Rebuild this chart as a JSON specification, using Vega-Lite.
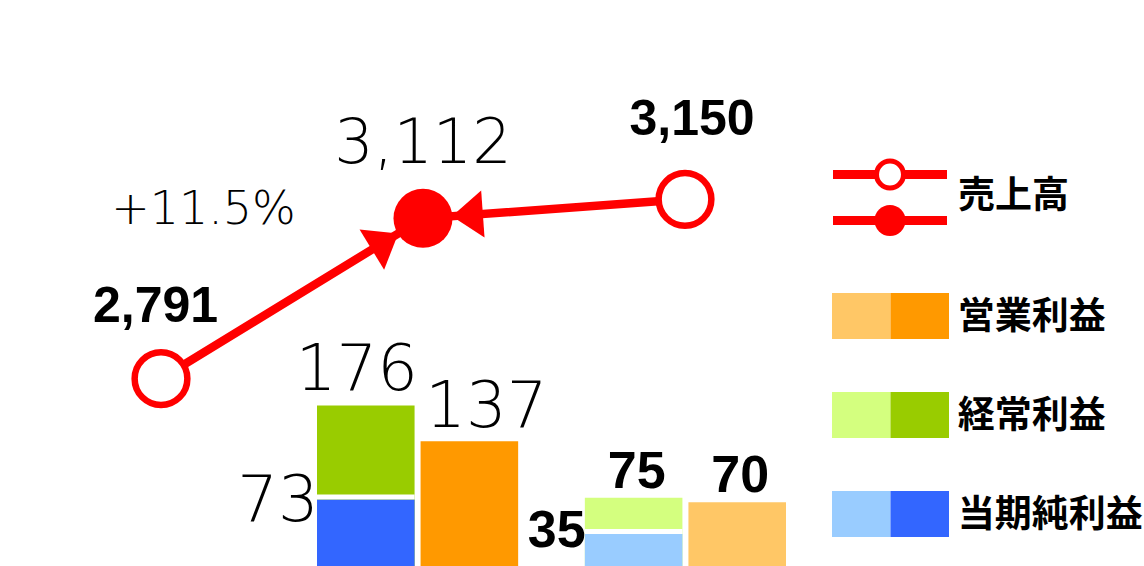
{
  "$schema": "https://vega.github.io/schema/vega-lite/v6.json",
  "width": 1144,
  "height": 566,
  "autosize": {"type": "none"},
  "padding": 0,
  "background": "white",
  "config": {"view": {"stroke": null}},
  "datasets": {
    "sales": [
      {"period": "前期", "sales": 2791, "label": "2,791", "growth": ""},
      {"period": "当期", "sales": 3112, "label": "3,112", "growth": "+11.5%"},
      {"period": "予想", "sales": 3150, "label": "3,150", "growth": ""}
    ],
    "profits": [
      {"group": "当期", "slot": "利益", "metric": "経常利益", "series": "経常利益・当期", "value": 176, "label": "176"},
      {"group": "当期", "slot": "利益", "metric": "当期純利益", "series": "当期純利益・当期", "value": 73, "label": "73"},
      {"group": "当期", "slot": "営業利益", "metric": "営業利益", "series": "営業利益・当期", "value": 137, "label": "137"},
      {"group": "比較", "slot": "利益", "metric": "経常利益", "series": "経常利益・比較", "value": 75, "label": "75"},
      {"group": "比較", "slot": "利益", "metric": "当期純利益", "series": "当期純利益・比較", "value": 35, "label": "35"},
      {"group": "比較", "slot": "営業利益", "metric": "営業利益", "series": "営業利益・比較", "value": 70, "label": "70"}
    ],
    "legend": [
      {"item": "営業利益", "swatch": "比較", "series": "営業利益・比較"},
      {"item": "営業利益", "swatch": "当期", "series": "営業利益・当期"},
      {"item": "経常利益", "swatch": "比較", "series": "経常利益・比較"},
      {"item": "経常利益", "swatch": "当期", "series": "経常利益・当期"},
      {"item": "当期純利益", "swatch": "比較", "series": "当期純利益・比較"},
      {"item": "当期純利益", "swatch": "当期", "series": "当期純利益・当期"}
    ],
    "salesLegend": [
      {"item": "売上高", "swatch": "比較"},
      {"item": "売上高", "swatch": "当期"}
    ]
  },
  "resolve": {"scale": {"x": "independent", "y": "independent"}},
  "layer": [
    {
      "data": {"name": "profits"},
      "encoding": {
        "x": {"field": "group", "type": "nominal", "axis": null, "scale": {"type": "band", "domain": ["当期", "比較"], "range": [317, 786], "paddingInner": 0.249, "paddingOuter": 0}},
        "xOffset": {"field": "slot", "type": "nominal", "scale": {"domain": ["利益", "営業利益"], "paddingInner": 0.058, "paddingOuter": 0}},
        "y": {"field": "value", "type": "quantitative", "axis": null, "stack": null, "scale": {"domain": [0, 621], "nice": false, "zero": true}}
      },
      "layer": [
        {
          "mark": {"type": "bar", "opacity": 1},
          "encoding": {
            "color": {"field": "series", "type": "nominal", "legend": null, "scale": {"domain": ["営業利益・当期", "営業利益・比較", "経常利益・当期", "経常利益・比較", "当期純利益・当期", "当期純利益・比較"], "range": ["#FF9900", "#FFC766", "#99CC00", "#D4FF7F", "#3366FF", "#99CCFF"]}}
          }
        },
        {
          "transform": [{"filter": "datum.metric === '当期純利益'"}],
          "mark": {"type": "bar", "fill": "white", "opacity": 1, "y2Offset": -5},
          "encoding": {"y2": {"field": "value"}}
        },
        {
          "transform": [{"filter": "datum.series === '経常利益・当期'"}],
          "mark": {"type": "text", "font": "DejaVu Sans", "fontWeight": 200, "fontSize": 64, "fill": "black", "align": "center", "baseline": "alphabetic", "dx": -9, "dy": -16},
          "encoding": {"text": {"field": "label"}}
        },
        {
          "transform": [{"filter": "datum.series === '営業利益・当期'"}],
          "mark": {"type": "text", "font": "DejaVu Sans", "fontWeight": 200, "fontSize": 64, "fill": "black", "align": "center", "baseline": "alphabetic", "dx": 17, "dy": -14},
          "encoding": {"text": {"field": "label"}}
        },
        {
          "transform": [{"filter": "datum.series === '当期純利益・当期'"}],
          "mark": {"type": "text", "font": "DejaVu Sans", "fontWeight": 200, "fontSize": 64, "fill": "black", "align": "right", "baseline": "alphabetic", "dx": -47, "dy": 22},
          "encoding": {"text": {"field": "label"}}
        },
        {
          "transform": [{"filter": "datum.series === '当期純利益・比較'"}],
          "mark": {"type": "text", "font": "Liberation Sans", "fontWeight": "bold", "fontSize": 52, "fill": "black", "align": "right", "baseline": "alphabetic", "dx": -48, "dy": 13},
          "encoding": {"text": {"field": "label"}}
        },
        {
          "transform": [{"filter": "datum.series === '経常利益・比較' || datum.series === '営業利益・比較'"}],
          "mark": {"type": "text", "font": "Liberation Sans", "fontWeight": "bold", "fontSize": 52, "fill": "black", "align": "center", "baseline": "alphabetic", "dx": 3, "dy": -10},
          "encoding": {"text": {"field": "label"}}
        }
      ]
    },
    {
      "data": {"name": "sales"},
      "encoding": {
        "x": {"field": "period", "type": "ordinal", "axis": null, "scale": {"type": "point", "domain": ["前期", "当期", "予想"], "range": [161, 685], "padding": 0}},
        "y": {"field": "sales", "type": "quantitative", "axis": null, "scale": {"domain": [2416, 3549], "nice": false, "zero": false}}
      },
      "layer": [
        {"mark": {"type": "line", "color": "#FF0000", "strokeWidth": 8.5}},
        {
          "transform": [{"filter": "datum.period === '当期'"}],
          "mark": {"type": "point", "shape": "M -2.9 0 L -6 -2.35 L -6 2.35 Z", "size": 400, "filled": true, "fill": "#FF0000", "strokeWidth": 0, "opacity": 1, "angle": 328.5}
        },
        {
          "transform": [{"filter": "datum.period === '当期'"}],
          "mark": {"type": "point", "shape": "M -2.9 0 L -6 -2.35 L -6 2.35 Z", "size": 400, "filled": true, "fill": "#FF0000", "strokeWidth": 0, "opacity": 1, "angle": 175.9}
        },
        {
          "transform": [{"filter": "datum.period !== '当期'"}],
          "mark": {"type": "point", "shape": "circle", "size": 2780, "filled": true, "fill": "white", "stroke": "#FF0000", "strokeWidth": 6.5, "opacity": 1}
        },
        {
          "transform": [{"filter": "datum.period === '当期'"}],
          "mark": {"type": "point", "shape": "circle", "size": 3484, "filled": true, "fill": "#FF0000", "strokeWidth": 0, "opacity": 1}
        },
        {
          "transform": [{"filter": "datum.period === '前期'"}],
          "mark": {"type": "text", "font": "Liberation Sans", "fontWeight": "bold", "fontSize": 50, "fill": "black", "align": "center", "baseline": "alphabetic", "dx": -5.5, "dy": -57},
          "encoding": {"text": {"field": "label"}}
        },
        {
          "transform": [{"filter": "datum.period === '予想'"}],
          "mark": {"type": "text", "font": "Liberation Sans", "fontWeight": "bold", "fontSize": 50, "fill": "black", "align": "center", "baseline": "alphabetic", "dx": 7, "dy": -64},
          "encoding": {"text": {"field": "label"}}
        },
        {
          "transform": [{"filter": "datum.period === '当期'"}],
          "mark": {"type": "text", "font": "DejaVu Sans", "fontWeight": 200, "fontSize": 62, "fill": "black", "align": "center", "baseline": "alphabetic", "dx": 0, "dy": -55},
          "encoding": {"text": {"field": "label"}}
        },
        {
          "transform": [{"filter": "datum.period === '当期'"}],
          "mark": {"type": "text", "font": "DejaVu Sans", "fontWeight": 200, "fontSize": 46, "fill": "black", "align": "center", "baseline": "alphabetic", "dx": -219.5, "dy": 6},
          "encoding": {"text": {"field": "growth"}}
        }
      ]
    },
    {
      "data": {"name": "legend"},
      "encoding": {
        "x": {"field": "swatch", "type": "nominal", "axis": null, "scale": {"type": "band", "domain": ["比較", "当期"], "range": [832, 949], "paddingInner": 0, "paddingOuter": 0}},
        "y": {"field": "item", "type": "nominal", "axis": null, "scale": {"type": "band", "domain": ["営業利益", "経常利益", "当期純利益"], "range": [293, 537], "paddingInner": 0.535, "paddingOuter": 0}}
      },
      "layer": [
        {
          "mark": {"type": "rect", "opacity": 1},
          "encoding": {
            "color": {"field": "series", "type": "nominal", "legend": null, "scale": {"domain": ["営業利益・当期", "営業利益・比較", "経常利益・当期", "経常利益・比較", "当期純利益・当期", "当期純利益・比較"], "range": ["#FF9900", "#FFC766", "#99CC00", "#D4FF7F", "#3366FF", "#99CCFF"]}}
          }
        },
        {
          "transform": [{"filter": "datum.swatch === '当期'"}],
          "mark": {"type": "text", "font": "Noto Sans CJK JP", "fontWeight": "bold", "fontSize": 37, "fill": "black", "align": "left", "baseline": "middle", "dx": 38, "dy": 2},
          "encoding": {"text": {"field": "item"}}
        }
      ]
    },
    {
      "data": {"name": "salesLegend"},
      "encoding": {
        "x": {"field": "item", "type": "nominal", "axis": null, "scale": {"type": "band", "domain": ["売上高"], "range": [833, 947], "paddingInner": 0, "paddingOuter": 0}},
        "y": {"field": "swatch", "type": "nominal", "axis": null, "scale": {"type": "band", "domain": ["比較", "当期"], "range": [170, 225], "paddingInner": 0.804, "paddingOuter": 0}}
      },
      "layer": [
        {"mark": {"type": "rect", "fill": "#FF0000", "opacity": 1}},
        {
          "transform": [{"filter": "datum.swatch === '比較'"}],
          "mark": {"type": "point", "shape": "circle", "size": 726, "filled": true, "fill": "white", "stroke": "#FF0000", "strokeWidth": 5, "opacity": 1}
        },
        {
          "transform": [{"filter": "datum.swatch === '当期'"}],
          "mark": {"type": "point", "shape": "circle", "size": 962, "filled": true, "fill": "#FF0000", "strokeWidth": 0, "opacity": 1}
        },
        {
          "transform": [{"filter": "datum.swatch === '比較'"}],
          "mark": {"type": "text", "font": "Noto Sans CJK JP", "fontWeight": "bold", "fontSize": 37, "fill": "black", "align": "left", "baseline": "middle", "dx": 68, "dy": 22.5},
          "encoding": {"text": {"field": "item"}}
        }
      ]
    }
  ]
}
